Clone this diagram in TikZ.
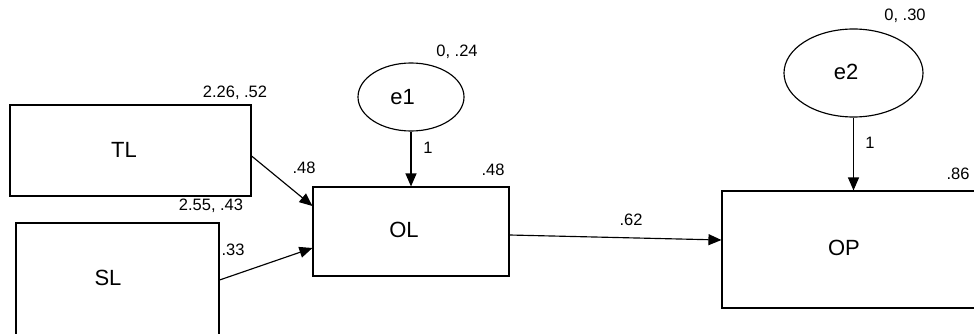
\documentclass[tikz,border=0pt]{standalone}
\usepackage{fontspec}
\setmainfont{Liberation Sans}
\usetikzlibrary{arrows.meta,shapes.geometric}
\begin{document}
\begin{tikzpicture}[x=1pt,y=-1pt, line width=1.15pt,
  box/.style={draw, rectangle, inner sep=0pt},
  err/.style={draw, ellipse, inner sep=0pt},
  nm/.style={font=\fontsize{22}{25}\selectfont, inner sep=0pt, text height=15.5pt, text depth=0pt},
  lab/.style={font=\fontsize{16.5}{19}\selectfont, inner sep=0pt, text height=11.8pt, text depth=0pt},
  arr/.style={-{Triangle[length=13pt,width=11pt]}}]
\useasboundingbox (0,0) rectangle (974,334);
\clip (0,0) rectangle (974,334);
% boxes
\node[box, minimum width=241pt, minimum height=91pt,
      label={[nm,name=TLt,xshift=-6.5pt,yshift=1pt]center:TL}] (TL) at (130.5,150.5) {};
\node[box, minimum width=203pt, minimum height=117pt,
      label={[nm,name=SLt,xshift=-9.5pt,yshift=3.5pt]center:SL}] (SL) at (117.5,281.5) {};
\node[box, minimum width=196pt, minimum height=89pt,
      label={[nm,name=OLt,xshift=-7pt,yshift=2pt]center:OL}] (OL) at (411,231.5) {};
\node[box, minimum width=258pt, minimum height=117pt,
      label={[nm,name=OPt,xshift=-7pt,yshift=1.5pt]center:OP}] (OP) at (851,249.5) {};
% error terms
\node[err, minimum width=106pt, minimum height=68pt,
      label={[nm,name=e1t,xshift=-8.5pt]center:e1}] (e1) at (411,97) {};
\node[err, minimum width=139pt, minimum height=88pt,
      label={[nm,name=e2t,xshift=-7.5pt,yshift=1pt]center:e2}] (e2) at (853.5,73) {};
% connectors
\draw[arr] ([yshift=-5.5pt]TL.east) -- ([yshift=25.5pt]OL.west);
\draw[arr] ([yshift=1.5pt]SL.east) -- ([yshift=-16.5pt]OL.west);
\draw[arr] ([yshift=-3.5pt]OL.east) -- ([yshift=9.5pt]OP.west);
\draw[arr] (e1.south) -- (OL.north);
\draw[arr] (e2.south) -- (e2.south |- OP.north);
% estimates
\node[lab] (l1) at (235,92) {2.26, .52};
\node[lab] (l2) at (211,205) {2.55, .43};
\node[lab] (l3) at (233,250) {.33};
\node[lab] (l4) at (304,168) {.48};
\node[lab] (l5) at (493,170) {.48};
\node[lab] (l6) at (428,148) {1};
\node[lab] (l7) at (457,50.5) {0, .24};
\node[lab] (l8) at (631,220) {.62};
\node[lab] (l9) at (905,15) {0, .30};
\node[lab] (l10) at (958,174) {.86};
\node[lab] (l11) at (870,143) {1};
\end{tikzpicture}
\end{document}
